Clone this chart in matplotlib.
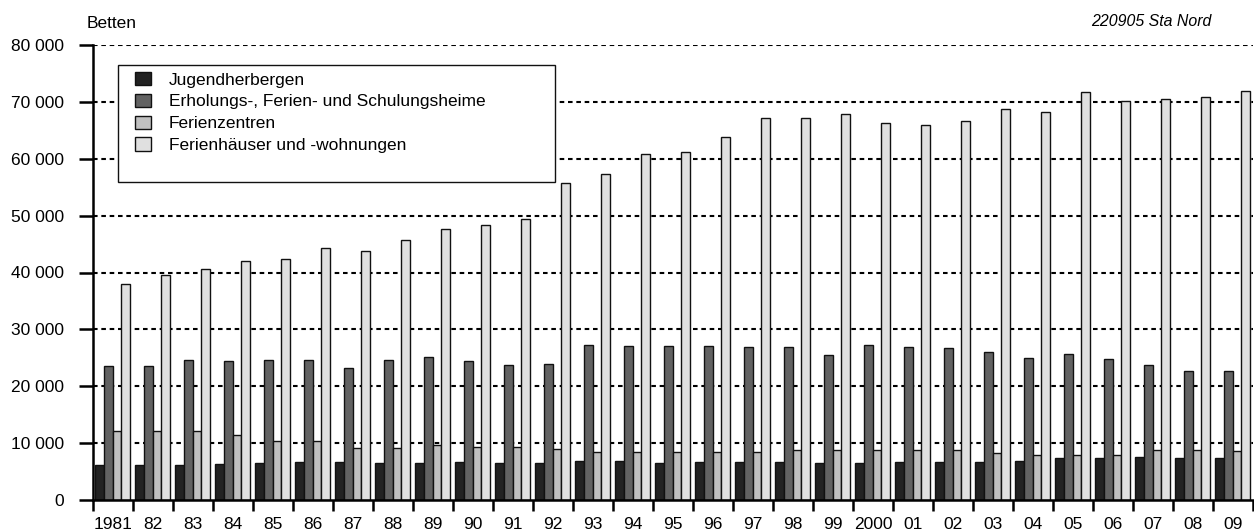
import matplotlib
matplotlib.use("Agg")
import matplotlib.pyplot as plt
import numpy as np
from matplotlib.patches import Rectangle

plt.rcParams['font.family'] = ['Liberation Sans', 'DejaVu Sans']

years = ['1981', '82', '83', '84', '85', '86', '87', '88', '89', '90',
         '91', '92', '93', '94', '95', '96', '97', '98', '99', '2000',
         '01', '02', '03', '04', '05', '06', '07', '08', '09']

jugendherbergen = [6200, 6150, 6150, 6250, 6450, 6600, 6600, 6450, 6550, 6600,
                   6550, 6550, 6800, 6800, 6550, 6650, 6650, 6650, 6500, 6550,
                   6650, 6650, 6650, 6900, 7300, 7400, 7600, 7400, 7300]
erholungsheime = [23600, 23600, 24700, 24500, 24600, 24700, 23200, 24700, 25100, 24500,
                  23800, 24000, 27300, 27000, 27000, 27000, 26900, 26900, 25500, 27200,
                  26900, 26700, 26100, 25000, 25600, 24800, 23700, 22700, 22600]
ferienzentren = [12150, 12150, 12150, 11450, 10300, 10300, 9100, 9100, 9750, 9400,
                 9400, 8950, 8500, 8500, 8500, 8500, 8500, 8750, 8750, 8800,
                 8800, 8800, 8300, 7950, 7950, 7850, 8800, 8800, 8650]
ferienhaeuser = [38050, 39500, 40700, 42100, 42400, 44300, 43700, 45650, 47650, 48400,
                 49400, 55650, 57400, 60750, 61250, 63750, 67100, 67250, 67900, 66200,
                 65950, 66600, 68800, 68250, 71700, 70200, 70550, 70850, 71950]

series = [
    ('Jugendherbergen', jugendherbergen, '#222222'),
    ('Erholungs-, Ferien- und Schulungsheime', erholungsheime, '#626262'),
    ('Ferienzentren', ferienzentren, '#c0c0c0'),
    ('Ferienhäuser und -wohnungen', ferienhaeuser, '#e0e0e0'),
]

FS = 12.5
W, H = 1254, 532
fig = plt.figure(figsize=(W / 100, H / 100), dpi=100)
ax = fig.add_axes([93 / W, 1 - 500 / H, (1253 - 93) / W, (500 - 45) / H])

n = len(years)
x = np.arange(n)
bw = 0.22
offsets = [0.05, 0.27, 0.49, 0.71]

handles = []
for (label, vals, col), off in zip(series, offsets):
    h = ax.bar(x + off, vals, width=bw, align='edge', color=col,
               edgecolor='#111111', linewidth=1.0, label=label, zorder=3)
    handles.append(h)

ax.set_xlim(0, n)
ax.set_ylim(0, 80000)

yt = np.arange(0, 80001, 10000)
ax.set_yticks(yt)
ax.set_yticklabels([f'{v:,}'.replace(',', ' ') for v in yt], fontsize=FS)
for v in yt[1:]:
    ax.axhline(v, color='black', linestyle=(0, (2.2, 1.8)), linewidth=1.5, zorder=1)

ax.set_xticks(np.arange(0, n + 1))
ax.set_xticklabels([])
ax.set_xticks(x + 0.5, minor=True)
ax.set_xticklabels(years, minor=True, fontsize=FS)
ax.tick_params(axis='x', which='major', length=8, width=1.8, direction='out')
ax.tick_params(axis='x', which='minor', length=0, pad=12)
ax.tick_params(axis='y', length=10, width=1.8, direction='out', pad=11)

for s in ['top', 'right']:
    ax.spines[s].set_visible(False)
ax.spines['left'].set_linewidth(1.8)
ax.spines['bottom'].set_linewidth(1.8)
ax.spines['left'].set_zorder(4)
ax.spines['bottom'].set_zorder(4)

fig.text(87 / W, 1 - 23 / H, 'Betten', fontsize=FS, ha='left', va='center')
fig.text(1211 / W, 1 - 22 / H, '220905 Sta Nord', fontsize=11.4, style='italic',
         ha='right', va='center')

# legend box
fig.patches.append(Rectangle((118 / W, 1 - 182 / H), (555 - 118) / W, (182 - 65) / H,
                             transform=fig.transFigure, facecolor='white',
                             edgecolor='#111111', linewidth=1.0, zorder=5))
leg = fig.legend(handles=handles, loc='upper left',
                 bbox_to_anchor=(135 / W, 1 - 72 / H), frameon=False,
                 fontsize=FS, handlelength=0.93, handleheight=0.78,
                 handletextpad=1.0, labelspacing=0.36, borderpad=0,
                 borderaxespad=0)
leg.set_zorder(6)

fig.savefig('out.png', dpi=100)
